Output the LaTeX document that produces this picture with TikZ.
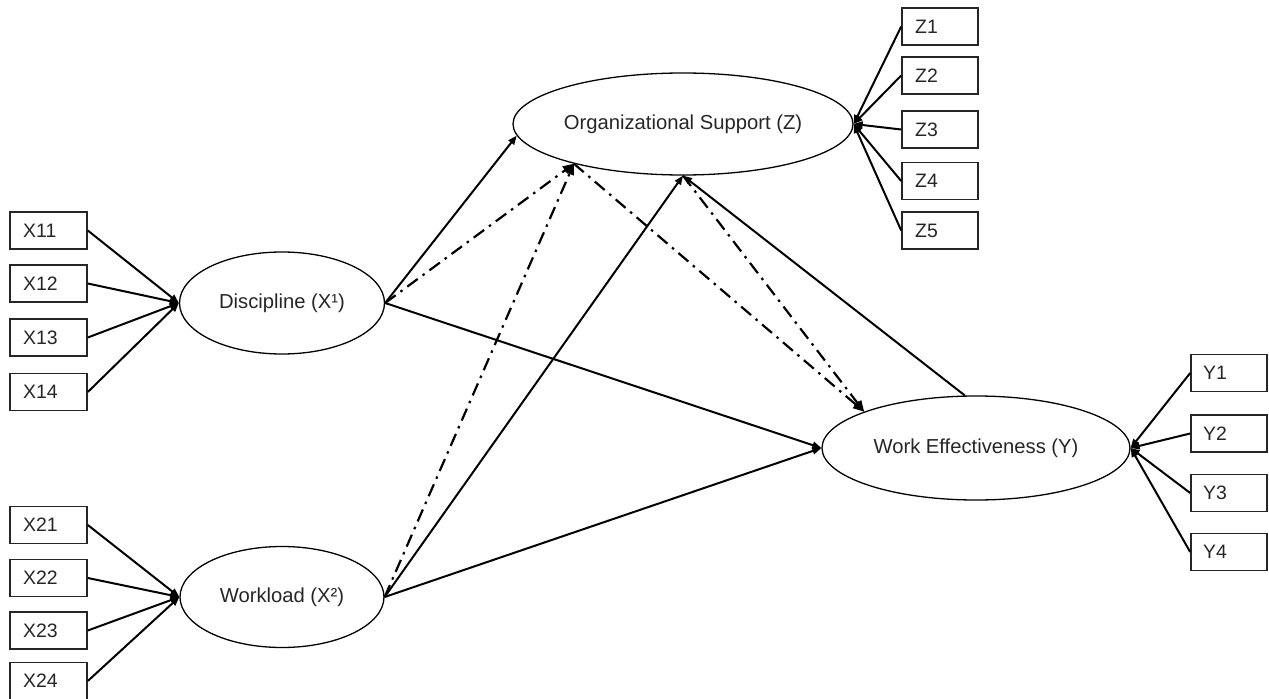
\documentclass[tikz,border=0pt]{standalone}
\usepackage{fontspec}
\setmainfont{Liberation Sans}
\usetikzlibrary{shapes.geometric,arrows.meta}
\begin{document}
\begin{tikzpicture}[x=1bp,y=-1bp,
  latent/.style={ellipse,draw=black,line width=1.3bp,inner sep=0pt,text=black!85,
    font=\fontsize{20.3}{24}\selectfont},
  indicator/.style={rectangle,draw=black!85,line width=1.6bp,minimum width=77bp,minimum height=37bp,
    inner sep=0pt},
  itext/.style={anchor=west,text=black!85,font=\fontsize{19.5}{23}\selectfont,inner sep=0pt},
  path/.style={line width=2bp,-{Triangle[length=9bp,width=7bp]}},
  dashdot/.style={line width=2.2bp,dash pattern=on 13bp off 6bp on 2.5bp off 6bp,-{Triangle[length=11bp,width=9bp]}}]
\useasboundingbox (0,0) rectangle (1269,699);
% latent variables
\node[latent,minimum width=340bp,minimum height=102bp] (OS) at (683,124) {Organizational Support (Z)};
\node[latent,minimum width=205bp,minimum height=102bp] (D) at (282,303) {Discipline (X¹)};
\node[latent,minimum width=204bp,minimum height=101bp] (W) at (282,597) {Workload (X²)};
\node[latent,minimum width=308bp,minimum height=104bp] (WE) at (976,448) {Work Effectiveness (Y)};
% indicators
\foreach \n/\y in {X11/230.5,X12/283.5,X13/337.5,X14/392,X21/525,X22/578,X23/630.5,X24/681}{
  \node[indicator] (\n) at (48.5,\y) {};
  \node[itext] (\n t) at (23,\y) {\n};
}
\foreach \n/\y in {Z1/26.5,Z2/75.5,Z3/129.5,Z4/181,Z5/230.5}{
  \node[indicator,minimum width=76bp] (\n) at (940,\y) {};
  \node[itext] (\n t) at (915,\y) {\n};
}
\foreach \n/\y in {Y1/373,Y2/433.5,Y3/493,Y4/552}{
  \node[indicator,minimum width=76bp] (\n) at (1229,\y) {};
  \node[itext] (\n t) at (1203,\y) {\n};
}
% measurement connectors
\foreach \n in {X11,X12,X13,X14}{\draw[path] (\n.east) -- (D.west);}
\foreach \n in {X21,X22,X23,X24}{\draw[path] (\n.east) -- (W.west);}
\foreach \n in {Z1,Z2,Z3,Z4,Z5}{\draw[path] (\n.west) -- (OS.east);}
\foreach \n in {Y1,Y2,Y3,Y4}{\draw[path] (\n.west) -- (WE.east);}
% structural paths
\draw[path] (D.east) -- (OS.184);
\draw[path] (W.east) -- (OS.south);
\draw[path] (D.east) -- (WE.west);
\draw[path] (W.east) -- (WE.west);
\draw[path] (WE.102) -- (OS.south);
\draw[dashdot] (D.east) -- (OS.200);
\draw[dashdot] (W.east) -- (OS.200);
\draw[dashdot] (OS.200) -- (WE.162);
\draw[dashdot] (OS.south) -- (WE.162);
\end{tikzpicture}
\end{document}
